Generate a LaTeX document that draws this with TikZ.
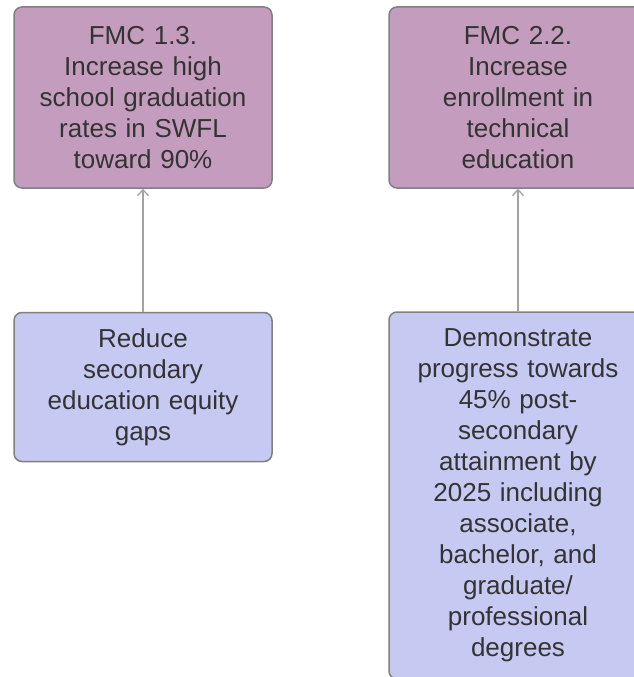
\documentclass[tikz,border=0pt]{standalone}
\usepackage{fontspec}
\setmainfont{Liberation Sans}
\usepackage{tikz}
\usetikzlibrary{positioning,arrows,arrows.meta}
\definecolor{fmcpurple}{HTML}{C49CBE}
\definecolor{goalblue}{HTML}{C6C9F2}
\definecolor{edgegray}{HTML}{808080}
\definecolor{arrowgray}{HTML}{A3A3A3}
\definecolor{txtgray}{HTML}{333333}
\newcommand{\boxfont}{\fontsize{26}{31}\selectfont}

\begin{document}
\begin{tikzpicture}[x=1pt,y=-1pt]
\tikzstyle{card}=[rectangle, rounded corners=8pt, draw=edgegray, line width=1.5pt, minimum width=258pt, text width=244pt, align=center, inner sep=0pt, text=txtgray, font=\boxfont]
\tikzstyle{fmc}=[card, fill=fmcpurple, minimum height=181pt]
\tikzstyle{goal}=[card, fill=goalblue]
\tikzstyle{connect}=[-{Straight Barb[length=6pt,width=11pt,line width=1.3pt]}, line width=1.6pt, draw=arrowgray]
\useasboundingbox (0,0) rectangle (634,677);

\node[fmc] (fmc_1) at (143,97.5) {FMC 1.3.\\Increase high\\school graduation\\rates in SWFL\\toward 90\%};
\node[fmc] (fmc_2) at (518,97.5) {FMC 2.2.\\Increase\\enrollment in\\technical\\education};
\node[goal, minimum height=149pt] (goal_1) at (143,387) {Reduce\\secondary\\education equity\\gaps};
\node[goal, minimum height=367pt] (goal_2) at (518,495.5) {Demonstrate\\progress towards\\45\% post-\\secondary\\attainment by\\2025 including\\associate,\\bachelor, and\\graduate/\\professional\\degrees};

\path
	(goal_1) edge[connect] (fmc_1)
	(goal_2) edge[connect] (fmc_2);

\end{tikzpicture}
\end{document}
